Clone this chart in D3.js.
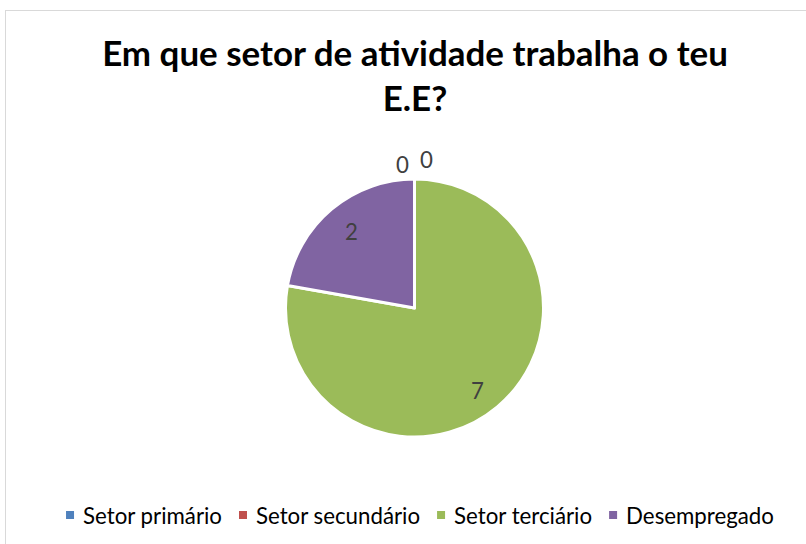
<html>
<head>
  <style>
    body { margin: 0; background: #fff; }
    svg { display: block; }
  </style>
  <script src="https://d3js.org/d3.v7.min.js"></script>
</head>
<body>
  <div id="chart"></div>
  <script type="text/javascript">
    // data
    var categories = ["Setor primário", "Setor secundário", "Setor terciário", "Desempregado"];
    var values = [0, 0, 7, 2];
    var colors = ["#4F81BD", "#C0504D", "#9BBB59", "#8064A2"];
    var titleLines = ["Em que setor de atividade trabalha o teu", "E.E?"];

    var width = 806, height = 544;
    var cx = 414.5, cy = 308, radius = 129;
    var fontFam = "Lato, 'Open Sans', 'DejaVu Sans', sans-serif";

    var svg = d3.select("#chart").append("svg")
        .attr("width", width)
        .attr("height", height);

    // chart border
    svg.append("rect")
        .attr("x", 5.5).attr("y", 10.5)
        .attr("width", width).attr("height", height)
        .attr("fill", "#fff")
        .attr("stroke", "#D9D9D9")
        .attr("stroke-width", 1);

    // fit a font size so that a string spans a target width
    function fitSize(str, weight, target) {
      var t = svg.append("text")
          .attr("font-family", fontFam)
          .attr("font-weight", weight)
          .attr("font-size", 100)
          .text(str);
      var w = t.node().getComputedTextLength();
      t.remove();
      return 100 * target / w;
    }

    // title
    var titleSize = fitSize(titleLines[0], "bold", 626);
    svg.append("g").selectAll("text")
        .data(titleLines)
        .enter().append("text")
        .attr("x", 415)
        .attr("y", function(d, i) { return 66 + i * 45; })
        .attr("text-anchor", "middle")
        .attr("font-family", fontFam)
        .attr("font-weight", "bold")
        .attr("font-size", titleSize)
        .attr("fill", "#000")
        .text(function(d) { return d; });

    // pie
    var pie = d3.pie().sort(null).value(function(d) { return d; });
    var arcs = pie(values);
    var arc = d3.arc().innerRadius(0).outerRadius(radius);
    var labelArc = d3.arc().innerRadius(radius * 0.8).outerRadius(radius * 0.8);

    var g = svg.append("g").attr("transform", "translate(" + cx + "," + cy + ")");

    g.selectAll("path")
        .data(arcs)
        .enter().append("path")
        .attr("d", arc)
        .attr("fill", function(d, i) { return colors[i]; })
        .attr("stroke", "#fff")
        .attr("stroke-width", 3)
        .attr("stroke-linejoin", "round");

    // data labels
    var labelSize = fitSize("Setor primário", "normal", 139);
    var zeroCount = 0;
    g.selectAll("text")
        .data(arcs)
        .enter().append("text")
        .attr("transform", function(d) {
          if (d.data === 0) {
            var k = zeroCount++;
            return "translate(" + ((k - 0.5) * 24) + "," + (-radius - 15 - k * 5) + ")";
          }
          var c = labelArc.centroid(d);
          // excel nudges labels slightly toward the lower part of the slice
          return "translate(" + (c[0] * 0.95) + "," + (c[1] + 3) + ")";
        })
        .attr("text-anchor", "middle")
        .attr("dominant-baseline", "central")
        .attr("font-family", fontFam)
        .attr("font-size", labelSize)
        .attr("fill", "#404040")
        .text(function(d) { return d.data; });

    // legend
    var legendSize = fitSize("Setor primário", "normal", 139);
    var legend = svg.append("g");
    var items = legend.selectAll("g")
        .data(categories)
        .enter().append("g");
    items.append("rect")
        .attr("width", 8).attr("height", 8)
        .attr("y", -4)
        .attr("fill", function(d, i) { return colors[i]; });
    items.append("text")
        .attr("x", 17)
        .attr("dominant-baseline", "central")
        .attr("font-family", fontFam)
        .attr("font-size", legendSize)
        .attr("fill", "#000")
        .text(function(d) { return d; });

    var xpos = 0;
    items.each(function() {
      var w = d3.select(this).select("text").node().getComputedTextLength();
      d3.select(this).attr("transform", "translate(" + xpos + ",0)");
      xpos += 17 + w + 17;
    });
    var total = xpos - 17;
    legend.attr("transform", "translate(" + (420 - total / 2) + ",515)");
  </script>
</body>
</html>
